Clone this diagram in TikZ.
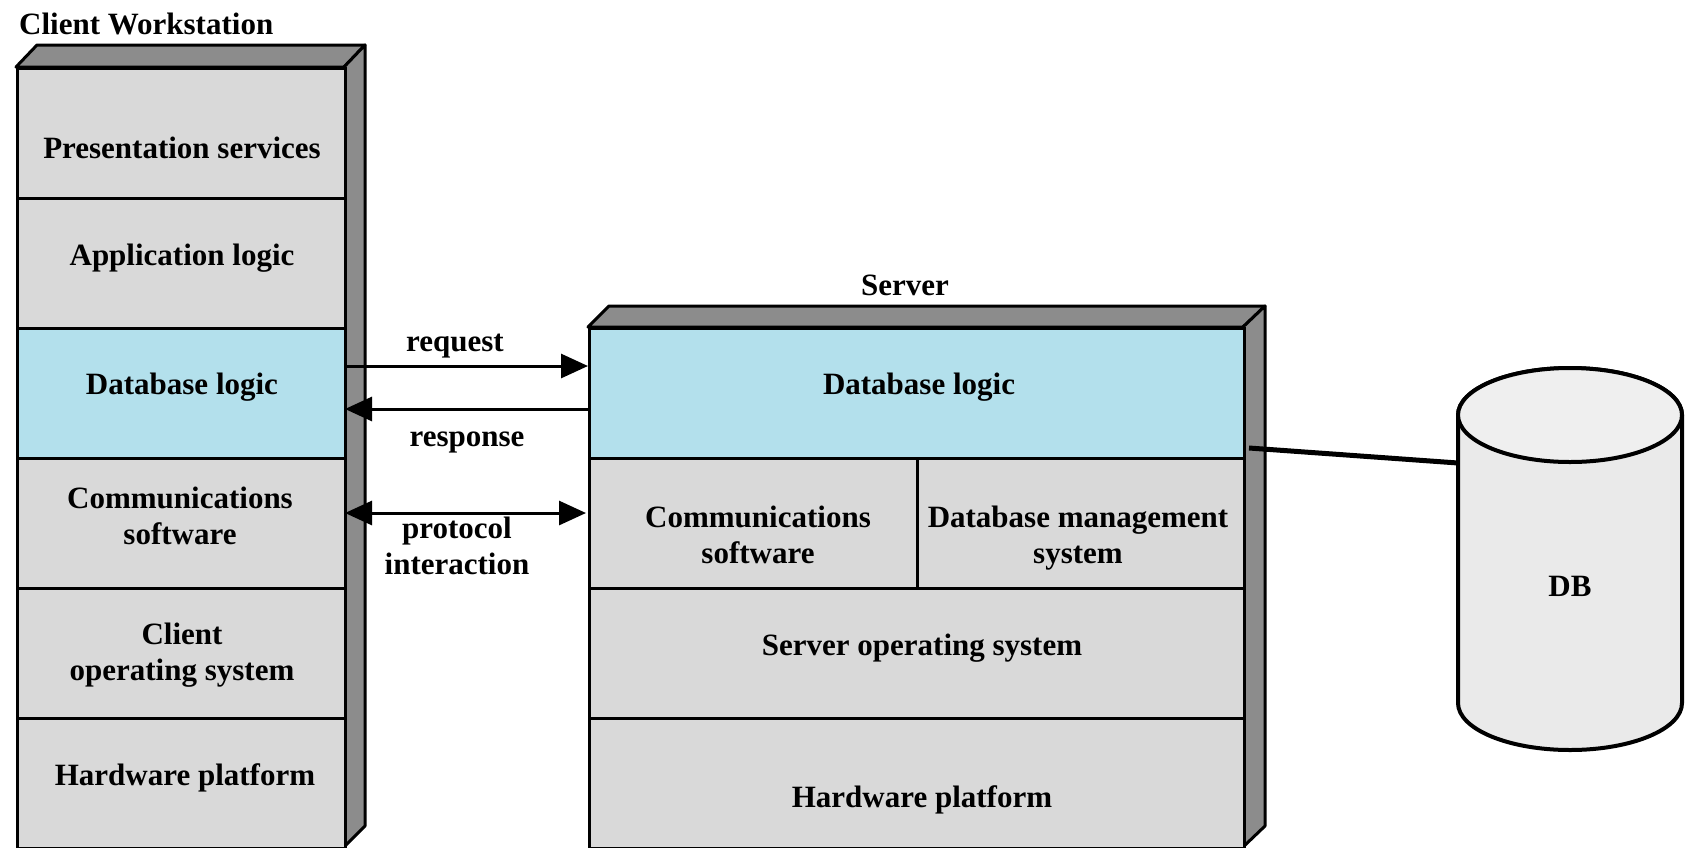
\documentclass[tikz,border=0pt]{standalone}
\usepackage{fontspec}
\setmainfont{Liberation Serif}
\usetikzlibrary{arrows.meta}
\definecolor{layergray}{HTML}{D9D9D9}
\definecolor{logicblue}{HTML}{B3E0EC}
\definecolor{edgegray}{HTML}{8C8C8C}
\definecolor{dbgray}{HTML}{EAEAEA}
\definecolor{dbtop}{HTML}{EFEFEF}
\begin{document}
\begin{tikzpicture}[x=1pt,y=-1pt,
  every node/.style={font=\fontsize{31}{36}\selectfont\bfseries},
  layer/.style={draw, line width=3pt, fill=layergray, inner sep=0pt, anchor=north west},
  logic/.style={layer, fill=logicblue},
  face/.style={draw, line width=3pt, fill=edgegray, line join=round},
  txt/.style={inner sep=0pt, align=center},
  msg/.style={line width=3pt, -{Triangle[length=27pt,width=24pt]}},
  msgboth/.style={line width=3pt, {Triangle[length=27pt,width=24pt]}-{Triangle[length=27pt,width=24pt]}}]
\useasboundingbox (0,0) rectangle (1685,847);

% ---- client workstation stack ----
\node[txt, anchor=west] (clientTitle) at (19,24) {Client Workstation};
\draw[face] (16,67) -- (37,45) -- (365,45) -- (344,67) -- cycle;
\draw[face] (344,67) -- (365,45) -- (365,826) -- (344,847) -- cycle;
\node[layer, minimum width=328pt, minimum height=130pt] (cPres) at (16,67) {};
\node[layer, minimum width=328pt, minimum height=130pt] (cApp)  at (16,197) {};
\node[logic, minimum width=328pt, minimum height=130pt] (cDb)   at (16,327) {};
\node[layer, minimum width=328pt, minimum height=130pt] (cComm) at (16,457) {};
\node[layer, minimum width=328pt, minimum height=130pt] (cOs)   at (16,587) {};
\node[layer, minimum width=328pt, minimum height=130pt] (cHw)   at (16,717) {};
\node[txt] (tPres) at (182,148) {Presentation services};
\node[txt] (tApp)  at (182,258) {Application logic};
\node[txt] (tCDb)  at (182,387) {Database logic};
\node[txt] (tCComm) at (180,516) {Communications\\software};
\node[txt] (tCOs)  at (182,655) {Client\\operating system};
\node[txt] (tCHw)  at (185,778) {Hardware platform};

% ---- server stack ----
\node[txt] (serverTitle) at (905,285) {Server};
\draw[face] (588,327) -- (609,306) -- (1265,306) -- (1243,327) -- cycle;
\draw[face] (1243,327) -- (1265,306) -- (1265,826) -- (1243,847) -- cycle;
\node[logic, minimum width=655pt, minimum height=130pt] (sDb)   at (588,327) {};
\node[layer, minimum width=328pt, minimum height=130pt] (sComm) at (588,457) {};
\node[layer, minimum width=327pt, minimum height=130pt] (sDbms) at (916,457) {};
\node[layer, minimum width=655pt, minimum height=130pt] (sOs)   at (588,587) {};
\node[layer, minimum width=655pt, minimum height=130pt] (sHw)   at (588,717) {};
\node[txt] (tSDb)   at (919,387) {Database logic};
\node[txt] (tSComm) at (758,535) {Communications\\software};
\node[txt] (tSDbms) at (1078,538) {Database management\\system};
\node[txt] (tSOs)   at (922,648) {Server operating system};
\node[txt] (tSHw)   at (922,800) {Hardware platform};

% ---- messages between the two database logic layers ----
\coordinate (reqA) at (344,366);
\coordinate (reqB) at (588,366);
\coordinate (resA) at (588,409);
\coordinate (resB) at (345,409);
\coordinate (proA) at (345,513);
\coordinate (proB) at (586,513);
\draw[msg] (reqA) -- (reqB);
\draw[msg] (resA) -- (resB);
\draw[msgboth] (proA) -- (proB);
\node[txt] (lReq) at (455,346) {request};
\node[txt] (lRes) at (467,442) {response};
\node[txt] (lPro) at (457,546) {protocol\\interaction};

% ---- database cylinder ----
\draw[line width=4pt, fill=dbgray] (1458,415) -- (1458,703)
  arc[start angle=180, end angle=360, x radius=112pt, y radius=47pt]
  -- (1682,415) arc[start angle=0, end angle=180, x radius=112pt, y radius=47pt] -- cycle;
\draw[line width=4pt, fill=dbtop] (1570,415) ellipse[x radius=112pt, y radius=47pt];
\node[txt] (db) at (1570,586) {DB};
\coordinate (dbLink) at (1458,463);
\coordinate (srvLink) at (1249,448);
\draw[line width=5pt] (srvLink) -- (dbLink);
\end{tikzpicture}
\end{document}
